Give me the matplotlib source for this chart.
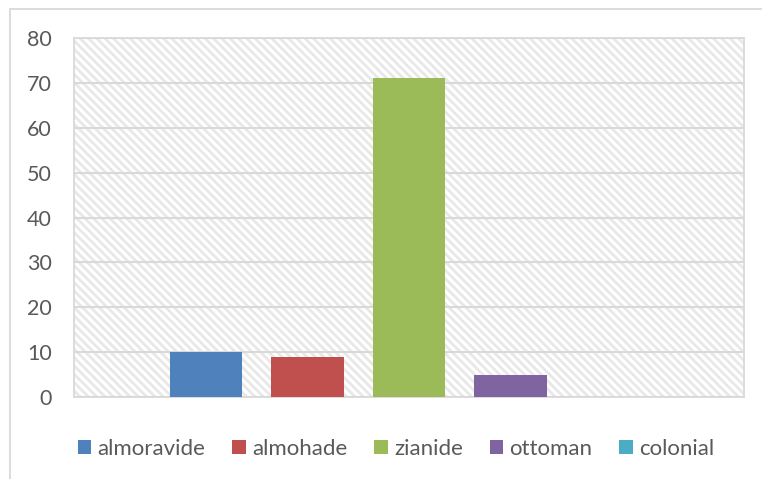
import matplotlib
matplotlib.use("Agg")
import matplotlib.pyplot as plt
from matplotlib.patches import Rectangle, Patch

series = ["almoravide", "almohade", "zianide", "ottoman", "colonial"]
values = [10, 9, 71, 5, 0]
colors = ["#4f81bd", "#c0504d", "#9bbb59", "#8064a2", "#4bacc6"]
yticks = [0, 10, 20, 30, 40, 50, 60, 70, 80]

plt.rcParams["font.family"] = ["Lato", "DejaVu Sans"]
plt.rcParams["hatch.linewidth"] = 2.0
text_color = "#595959"
grid_color = "#d9d9d9"
fs = 16

W, H = 762, 479
fig = plt.figure(figsize=(W / 100, H / 100), dpi=100)

# chart-area border
fig.patches.append(Rectangle((10 / W, -0.2), 1.2, 1.2 - 9 / H,
                             transform=fig.transFigure, facecolor="none",
                             edgecolor=grid_color, linewidth=1.3, zorder=-10))

ax = fig.add_axes([74 / W, 1 - 397 / H, (744 - 74) / W, (397 - 38) / H])
ax.set_facecolor("white")
ax.add_patch(Rectangle((0, 0), 1, 1, transform=ax.transAxes,
                       facecolor="white", edgecolor="#e8e8e8",
                       hatch="\\\\\\\\", linewidth=0, zorder=0))

x = list(range(len(series)))
bars = ax.bar(x, values, width=0.71, color=colors, zorder=3)

ax.set_ylim(0, 80)
ax.set_xlim(-1.30, 5.30)
ax.set_yticks(yticks)
ax.set_yticklabels([str(t) for t in yticks])
ax.set_xticks([])
ax.grid(axis="y", color=grid_color, linewidth=1.5, zorder=1)
ax.set_axisbelow(True)
for s in ax.spines.values():
    s.set_color(grid_color)
    s.set_linewidth(1.3)
ax.tick_params(axis="y", length=0, pad=16, labelsize=15.5, labelcolor=text_color)

handles = [Patch(facecolor=c, edgecolor="none") for c in colors]
fig.legend(handles, series, loc="center", bbox_to_anchor=(396 / W, 1 - 449 / H),
           ncol=5, frameon=False, fontsize=fs, labelcolor=text_color,
           handlelength=0.62, handleheight=0.62, handletextpad=0.28,
           columnspacing=1.2, borderpad=0, borderaxespad=0)

fig.savefig("out.png", dpi=100)
